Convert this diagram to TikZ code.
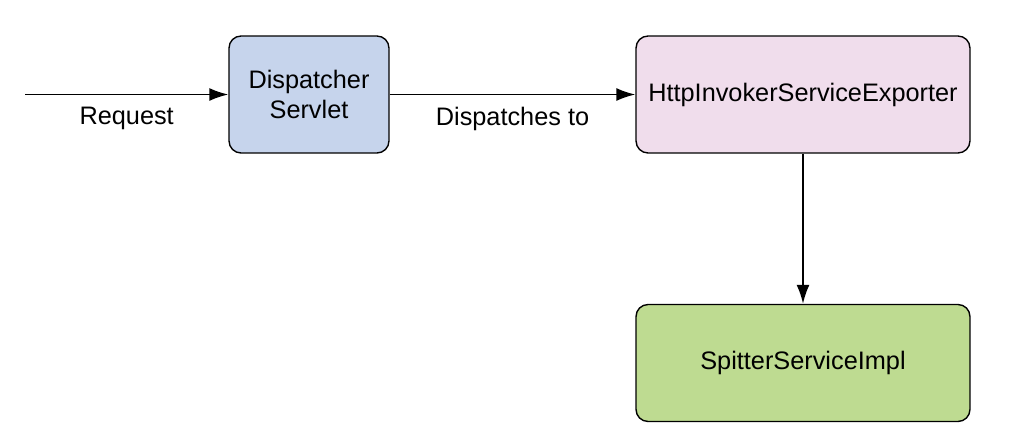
\documentclass[tikz,border=0pt]{standalone}
\usepackage{fontspec}
\setmainfont{Liberation Sans}
\usetikzlibrary{positioning, arrows.meta}
\definecolor{servletblue}{RGB}{198,212,236}
\definecolor{exporterpink}{RGB}{240,221,236}
\definecolor{implgreen}{RGB}{190,219,145}
\begin{document}
\begin{tikzpicture}[x=0.02cm, y=-0.02cm, every node/.style={font=\fontsize{14.4}{17.5}\selectfont},
	box/.style={draw, line width=0.8pt, rounded corners=0.24cm, minimum height=2.34cm, align=center},
	flow/.style={-{Latex[length=0.38cm, width=0.26cm]}, line width=1pt}]
				\useasboundingbox (0,0) rectangle (1036,447);
				\coordinate (start) at (25,94.5);
				\node[box, fill=servletblue, minimum width=3.2cm] (servlet) at (309,94.5) {Dispatcher\\Servlet};
				\node[box, fill=exporterpink, minimum width=6.68cm] (exporter) at (803,94.5) {HttpInvokerServiceExporter};
				\node[box, fill=implgreen, minimum width=6.68cm] (impl) at (803,363) {SpitterServiceImpl};
				
				\draw [flow] (start) -- node [below=0.12cm] {Request} (servlet);
				\draw [flow] (servlet) -- node [below=0.12cm] {Dispatches to} (exporter);
				\draw [flow] (exporter) -- (impl);
				\end{tikzpicture}
\end{document}
